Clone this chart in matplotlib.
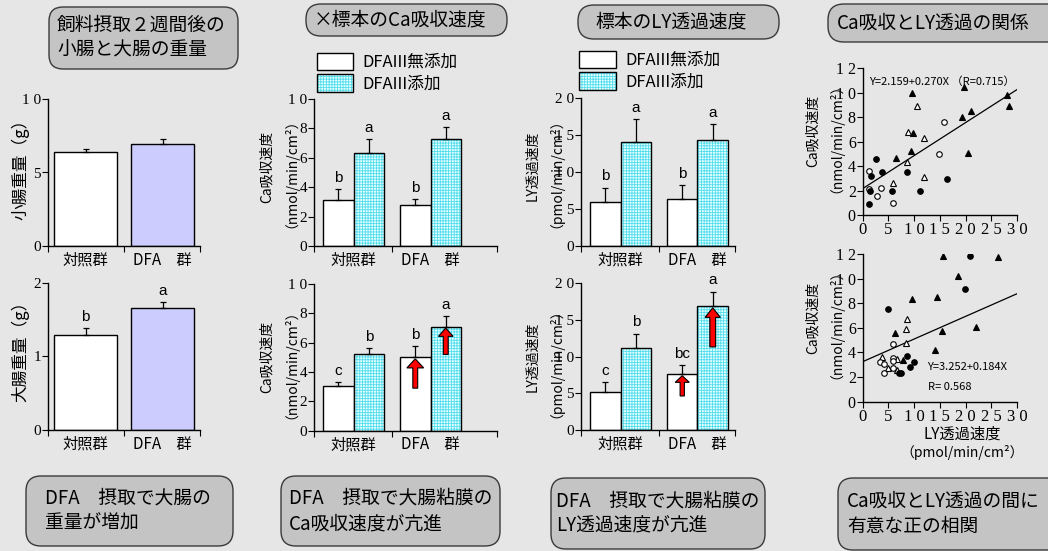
import matplotlib
matplotlib.use("Agg")
import matplotlib.pyplot as plt
from matplotlib.patches import FancyBboxPatch, Rectangle
from matplotlib.transforms import Affine2D

plt.rcParams['font.family'] = ['Noto Sans CJK JP', 'DejaVu Sans']
plt.rcParams['hatch.linewidth'] = 0.6
plt.rcParams['axes.linewidth'] = 1.0

## data ##

groups = ['対照群', 'DFA　群']
legend_labels = ['DFAIII無添加', 'DFAIII添加']

# intestine weights (g)
small_int = [6.4, 6.95]
small_int_err = [0.2, 0.3]
large_int = [1.29, 1.66]
large_int_err = [0.09, 0.08]
large_int_sig = ['b', 'a']

# Ca absorption rate (nmol/min/cm2), without / with DFAIII
ca_top_none = [3.1, 2.8]
ca_top_none_err = [0.8, 0.4]
ca_top_add = [6.3, 7.3]
ca_top_add_err = [1.0, 0.8]
ca_top_sig_none = ['b', 'b']
ca_top_sig_add = ['a', 'a']

ca_bot_none = [3.05, 5.05]
ca_bot_none_err = [0.27, 0.7]
ca_bot_add = [5.25, 7.1]
ca_bot_add_err = [0.4, 0.72]
ca_bot_sig_none = ['c', 'b']
ca_bot_sig_add = ['b', 'a']

# LY permeation rate (pmol/min/cm2)
ly_top_none = [5.9, 6.3]
ly_top_none_err = [2.0, 1.9]
ly_top_add = [14.1, 14.4]
ly_top_add_err = [3.1, 2.1]
ly_top_sig_none = ['b', 'b']
ly_top_sig_add = ['a', 'a']

ly_bot_none = [5.2, 7.6]
ly_bot_none_err = [1.3, 1.2]
ly_bot_add = [11.1, 16.8]
ly_bot_add_err = [2.0, 2.0]
ly_bot_sig_none = ['c', 'bc']
ly_bot_sig_add = ['b', 'a']

# scatter, top (LY x, Ca y)
s1_ftri_x = [9.5, 19.6, 19.4, 21.0, 28.0, 28.5, 9.7, 9.3, 6.4, 20.5]
s1_ftri_y = [10.0, 10.5, 8.0, 8.5, 9.8, 8.9, 6.7, 5.2, 4.7, 5.1]
s1_otri_x = [10.5, 8.9, 11.9, 8.7, 5.8, 11.9]
s1_otri_y = [8.9, 6.8, 6.3, 4.3, 2.6, 3.1]
s1_ocir_x = [15.8, 14.9, 1.2, 1.2, 3.5, 2.7, 5.9]
s1_ocir_y = [7.6, 5.0, 3.6, 2.1, 2.2, 1.55, 1.0]
s1_fcir_x = [2.5, 3.8, 8.6, 1.7, 1.4, 5.6, 1.2, 11.1, 16.4]
s1_fcir_y = [4.6, 3.55, 3.55, 3.15, 2.0, 1.95, 0.9, 2.0, 2.95]
s1_coef = (2.159, 0.270)

# scatter, bottom
s2_ftri_x = [15.7, 26.4, 18.6, 9.5, 14.5, 6.3, 15.4, 22.0, 14.0, 7.8]
s2_ftri_y = [11.8, 11.75, 10.2, 8.35, 8.5, 5.6, 5.75, 6.1, 4.2, 3.4]
s2_otri_x = [8.7, 8.4, 8.5, 3.8, 6.7, 4.9, 6.7]
s2_otri_y = [6.75, 5.9, 4.75, 3.65, 3.45, 2.75, 2.55]
s2_fcir_x = [20.8, 19.8, 5.0, 8.7, 10.0, 9.1, 7.0, 7.4]
s2_fcir_y = [11.8, 9.15, 7.5, 3.7, 3.2, 2.85, 2.35, 2.35]
s2_ocir_x = [5.9, 5.9, 5.9, 3.3, 4.2, 5.8, 4.2]
s2_ocir_y = [4.7, 3.55, 3.3, 3.2, 3.05, 2.75, 2.3]
s2_coef = (3.252, 0.184)

## style ##

W, H = 1048, 551
BG = '#e6e6e6'
BOXC = '#c4c4c4'
LAV = '#ccccff'
CYAN_BG = '#e4ffff'
CYAN_HATCH = '#55dded'
SERIF = 'Liberation Serif'

fig = plt.figure(figsize=(W / 100, H / 100), dpi=100, facecolor=BG)
# pixel coordinates, origin top-left
pix = Affine2D().scale(1, -1).translate(0, H).scale(1 / W, 1 / H) + fig.transFigure


def add_ax(x0, y0, x1, y1):
    ax = fig.add_axes([x0 / W, 1 - y1 / H, (x1 - x0) / W, (y1 - y0) / H])
    ax.set_facecolor('none')
    for s in ('top', 'right'):
        ax.spines[s].set_visible(False)
    return ax


def box(x0, y0, x1, y1, r, text, tx, fs=13.5):
    p = FancyBboxPatch((x0, y0), x1 - x0, y1 - y0,
                       boxstyle=f"round,pad=0,rounding_size={r}",
                       transform=pix, fc=BOXC, ec='#3a3a3a', lw=1.0)
    fig.add_artist(p)
    fig.text(tx, (y0 + y1) / 2, text, transform=pix, ha='left', va='center',
             fontsize=fs, linespacing=1.25)


def bar_axes(ax, xmax, mid, centers, yticks, yticklabels):
    ax.set_xlim(0, xmax)
    ax.set_ylim(0, yticks[-1])
    ax.set_xticks([0, mid, xmax], [])
    ax.set_xticks(centers, groups, minor=True, fontsize=11)
    ax.tick_params(axis='x', which='major', length=4, width=0.8)
    ax.tick_params(axis='x', which='minor', length=0, pad=4)
    ax.set_yticks(yticks, yticklabels, fontfamily=SERIF, fontsize=11)
    ax.tick_params(axis='y', length=4, width=0.8, pad=1)


def errs(ax, centers, vals, err):
    ax.errorbar(centers, vals, yerr=[[0] * len(err), err], fmt='none',
                ecolor='black', elinewidth=0.9, capsize=2, capthick=0.9, zorder=4)


def letters(ax, centers, vals, err, sig):
    for c, v, e, s in zip(centers, vals, err, sig):
        ax.annotate(s, (c, v + e), xytext=(0, 3), textcoords='offset points',
                    ha='center', va='bottom', fontsize=11, family='Liberation Sans')


def cyan_bars(ax, pos, vals):
    ax.bar(pos, vals, width=1, align='edge', color=CYAN_BG, edgecolor=CYAN_HATCH,
           hatch='++++++', lw=0, zorder=2)
    ax.bar(pos, vals, width=1, align='edge', fill=False, edgecolor='black', lw=1, zorder=3)


def ylabel(ax, x, y, text, fs=10):
    ax.text(x, y, text, transform=ax.transAxes, rotation=90, ha='center',
            va='center', fontsize=fs, linespacing=1.15)


# ---- panel 1: intestine weights ----
P1_POS = [0.095, 1.32]
P1_CEN = [p + 0.5 for p in P1_POS]

ax = add_ax(48, 99, 200, 246)
ax.bar(P1_POS, small_int, width=1, align='edge', color=['white', LAV], edgecolor='black', lw=1)
errs(ax, P1_CEN, small_int, small_int_err)
bar_axes(ax, 2.41, 1.21, P1_CEN, [0, 5, 10], ['0', '5', '1 0'])
ylabel(ax, -0.184, 0.55, '小腸重量（g）', fs=12)

ax = add_ax(48, 282.7, 200, 430)
ax.bar(P1_POS, large_int, width=1, align='edge', color=['white', LAV], edgecolor='black', lw=1)
errs(ax, P1_CEN, large_int, large_int_err)
letters(ax, P1_CEN, large_int, large_int_err, large_int_sig)
bar_axes(ax, 2.41, 1.21, P1_CEN, [0, 1, 2], ['0', '1', '2'])
ylabel(ax, -0.184, 0.56, '大腸重量（g）', fs=12)

# ---- panels 2 and 3: paired bars ----
W_POS = [0.3, 2.82]
C_POS = [1.3, 3.82]
W_CEN = [p + 0.5 for p in W_POS]
C_CEN = [p + 0.5 for p in C_POS]
G_CEN = [1.3, 3.82]


def pair_panel(box_px, xmax, none, none_err, add, add_err, sig_n, sig_a,
               yticks, ytl, label, lx, ly):
    ax = add_ax(*box_px)
    ax.bar(W_POS, none, width=1, align='edge', color='white', edgecolor='black', lw=1, zorder=2)
    cyan_bars(ax, C_POS, add)
    errs(ax, W_CEN, none, none_err)
    errs(ax, C_CEN, add, add_err)
    letters(ax, W_CEN, none, none_err, sig_n)
    letters(ax, C_CEN, add, add_err, sig_a)
    bar_axes(ax, xmax, 2.55, G_CEN, yticks, ytl)
    ylabel(ax, lx, ly, label)
    return ax


ca_label = 'Ca吸収速度\n（nmol/min/cm²）'
ly_label = 'LY透過速度\n（pmol/min/cm²）'
ca_ticks = [0, 2, 4, 6, 8, 10]
ca_tl = ['0', '2', '4', '6', '8', '1 0']
ly_ticks = [0, 5, 10, 15, 20]
ly_tl = ['0', '5', '1 0', '1 5', '2 0']

pair_panel((314, 99, 497, 246), 6.0, ca_top_none, ca_top_none_err, ca_top_add, ca_top_add_err,
           ca_top_sig_none, ca_top_sig_add, ca_ticks, ca_tl, ca_label, -0.21, 0.54)
ax = pair_panel((314, 284, 497, 430.7), 6.0, ca_bot_none, ca_bot_none_err, ca_bot_add, ca_bot_add_err,
                ca_bot_sig_none, ca_bot_sig_add, ca_ticks, ca_tl, ca_label, -0.21, 0.5)
ax.arrow(W_CEN[1], 2.9, 0, 2.0, width=0.16, head_width=0.55, head_length=0.62,
         length_includes_head=True, fc='red', ec='black', lw=0.8, zorder=6)
ax.arrow(C_CEN[1], 5.2, 0, 1.8, width=0.16, head_width=0.48, head_length=0.57,
         length_includes_head=True, fc='red', ec='black', lw=0.8, zorder=6)

pair_panel((581, 98.3, 735, 246), 5.05, ly_top_none, ly_top_none_err, ly_top_add, ly_top_add_err,
           ly_top_sig_none, ly_top_sig_add, ly_ticks, ly_tl, ly_label, -0.26, 0.54)
ax = pair_panel((581, 282.7, 735, 430.3), 5.05, ly_bot_none, ly_bot_none_err, ly_bot_add, ly_bot_add_err,
                ly_bot_sig_none, ly_bot_sig_add, ly_ticks, ly_tl, ly_label, -0.26, 0.5)
ax.arrow(W_CEN[1], 4.65, 0, 2.75, width=0.14, head_width=0.46, head_length=0.9,
         length_includes_head=True, fc='red', ec='black', lw=0.8, zorder=6)
ax.arrow(C_CEN[1], 11.3, 0, 5.3, width=0.19, head_width=0.5, head_length=1.3,
         length_includes_head=True, fc='red', ec='black', lw=0.8, zorder=6)

# legends (drawn by hand, as in the original slide)
for lx0, lx1, ltx, ly0 in [(317, 353, 362, 53), (579, 616, 625, 51)]:
    fig.add_artist(Rectangle((lx0, ly0), lx1 - lx0, 17, transform=pix,
                             fc='white', ec='black', lw=1))
    fig.add_artist(Rectangle((lx0, ly0 + 21), lx1 - lx0, 18, transform=pix,
                             fc=CYAN_BG, ec=CYAN_HATCH, hatch='++++++', lw=0))
    fig.add_artist(Rectangle((lx0, ly0 + 21), lx1 - lx0, 18, transform=pix,
                             fill=False, ec='black', lw=1))
    fig.text(ltx, ly0 + 9, legend_labels[0], transform=pix, ha='left', va='center', fontsize=12)
    fig.text(ltx, ly0 + 31, legend_labels[1], transform=pix, ha='left', va='center', fontsize=12)


# ---- panel 4: scatter plots ----
def scatter_panel(box_px, series, coef):
    ax = add_ax(*box_px)
    for xs, ys, m, face in series:
        ax.plot(xs, ys, ls='none', marker=m, ms=4, mfc=face, mec='black', mew=0.8, zorder=3)
    xl = [0, 30]
    ax.plot(xl, [coef[0] + coef[1] * x for x in xl], color='black', lw=0.9)
    ax.set_xlim(0, 30)
    ax.set_ylim(0, 12)
    ax.set_xticks([0, 5, 10, 15, 20, 25, 30], ['0', '5', '1 0', '1 5', '2 0', '2 5', '3 0'],
                  fontfamily=SERIF, fontsize=12)
    ax.set_yticks([0, 2, 4, 6, 8, 10, 12], ['0', '2', '4', '6', '8', '1 0', '1 2'],
                  fontfamily=SERIF, fontsize=11.5)
    ax.tick_params(length=4, width=0.8, pad=1)
    ylabel(ax, -0.27, 0.57, ca_label)
    return ax


ax = scatter_panel((862.7, 68.3, 1017, 215), [
    (s1_ftri_x, s1_ftri_y, '^', 'black'),
    (s1_otri_x, s1_otri_y, '^', 'white'),
    (s1_ocir_x, s1_ocir_y, 'o', 'white'),
    (s1_fcir_x, s1_fcir_y, 'o', 'black'),
], s1_coef)
ax.text(1.2, 10.9, 'Y=2.159+0.270X （R=0.715）', fontsize=8, ha='left', va='center')

ax = scatter_panel((862.7, 254, 1017, 401.7), [
    (s2_ftri_x, s2_ftri_y, '^', 'black'),
    (s2_otri_x, s2_otri_y, '^', 'white'),
    (s2_ocir_x, s2_ocir_y, 'o', 'white'),
    (s2_fcir_x, s2_fcir_y, 'o', 'black'),
], s2_coef)
ax.text(12.6, 2.85, 'Y=3.252+0.184X', fontsize=8, ha='left', va='center')
ax.text(12.6, 1.2, 'R= 0.568', fontsize=8, ha='left', va='center')
fig.text(962, 434, 'LY透過速度', transform=pix, ha='center', va='center', fontsize=11)
fig.text(962, 453, '（pmol/min/cm²）', transform=pix, ha='center', va='center', fontsize=10)

# ---- title and summary boxes ----
box(49, 7, 238, 69, 14, '飼料摂取２週間後の\n小腸と大腸の重量', 57)
box(306, 4, 507, 36, 15, '×標本のCa吸収速度', 314)
box(578, 5, 779, 39, 16, '標本のLY透過速度', 595)
box(828, 4, 1070, 42, 16, 'Ca吸収とLY透過の関係', 837)

box(26, 476, 233, 546, 15, 'DFA　摂取で大腸の\n重量が増加', 45)
box(281, 476, 500, 546, 15, 'DFA　摂取で大腸粘膜の\nCa吸収速度が亢進', 289)
box(551, 478, 765, 549, 15, 'DFA　摂取で大腸粘膜の\nLY透過速度が亢進', 556)
box(838, 478, 1070, 550, 15, 'Ca吸収とLY透過の間に\n有意な正の相関', 847)

fig.savefig('out.png', dpi=100, facecolor=BG)
